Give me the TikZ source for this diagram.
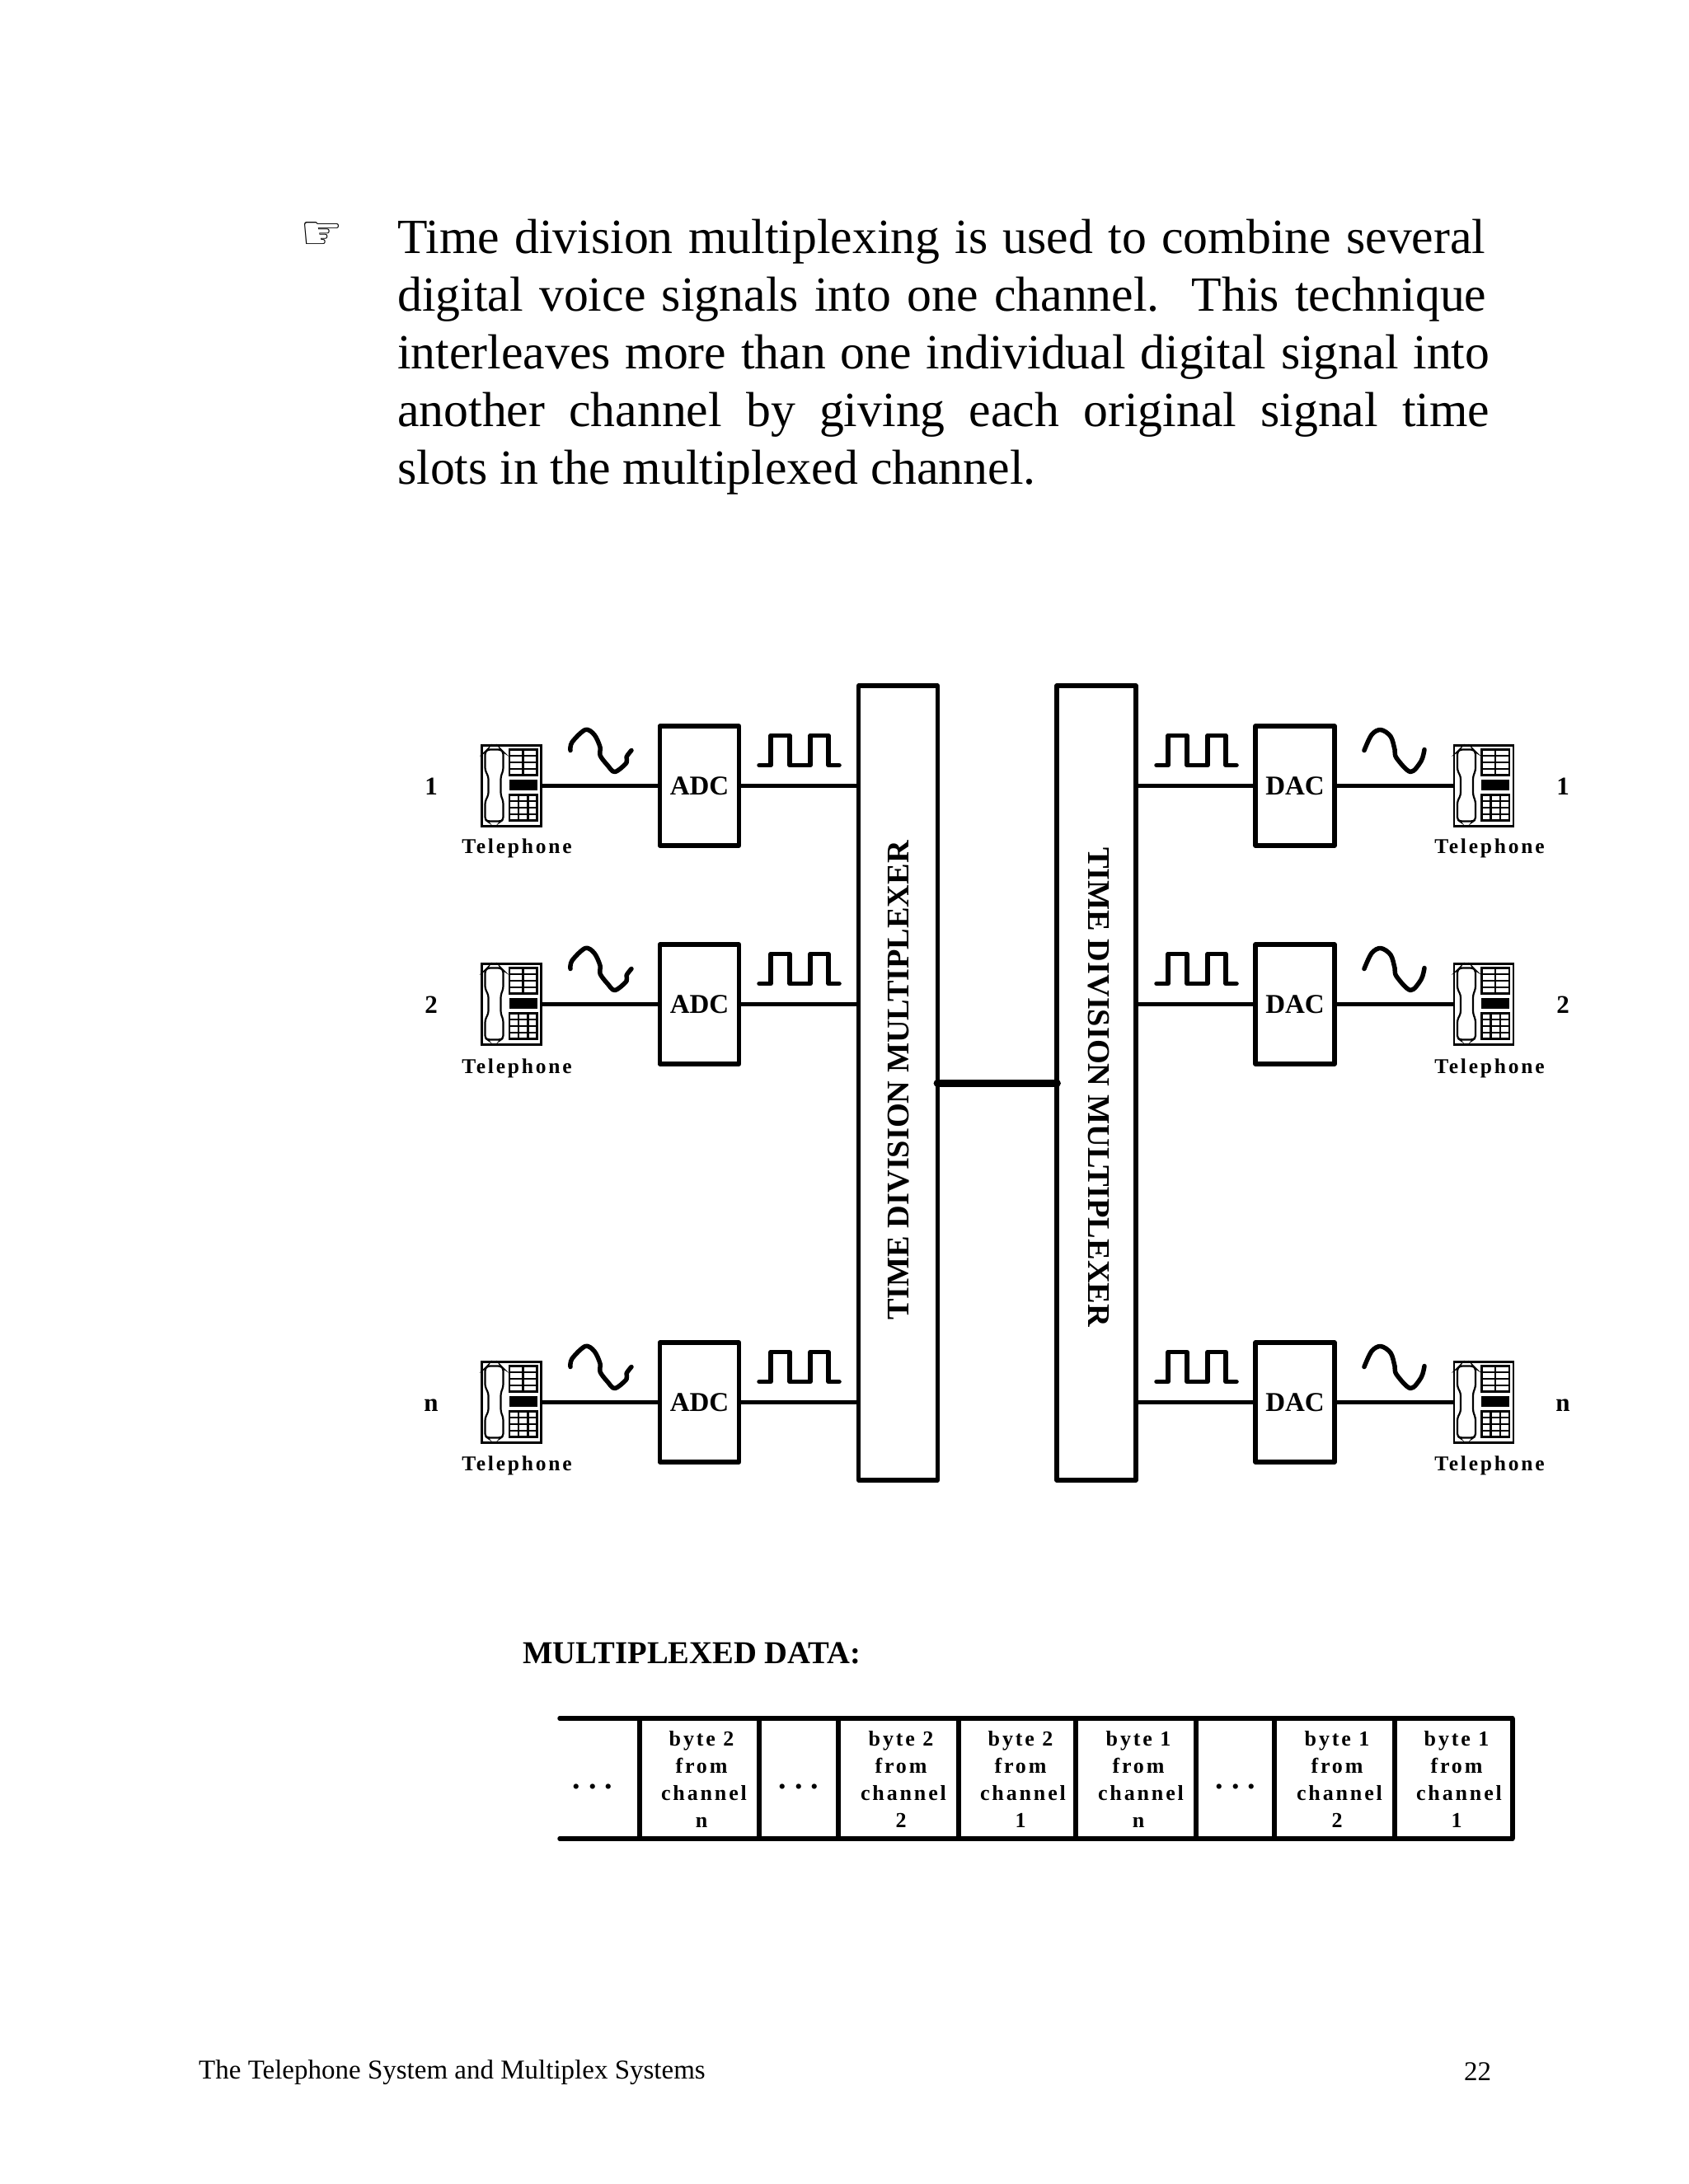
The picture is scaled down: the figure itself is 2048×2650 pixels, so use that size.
\documentclass[tikz,border=0pt]{standalone}
\usepackage{fontspec}
\setmainfont{Liberation Serif}
\newfontfamily\handfont{DejaVu Sans}
\newfontfamily\spfontb[LetterSpace=11]{Liberation Serif Bold}
\usetikzlibrary{calc}
\tikzset{
  x=1pt,y=-1pt,
  box/.style={draw,line width=5.5pt,inner sep=0pt,line join=round,minimum width=96pt,minimum height=145pt,font=\bfseries\fontsize{33}{36}\selectfont},
  tdm/.style={draw,line width=5.2pt,inner sep=0pt,line join=round,minimum width=96pt,minimum height=964pt},
  tdmlabel/.style={inner sep=0pt,font=\bfseries\fontsize{38.3}{42}\selectfont},
  wire/.style={line width=5.5pt},
  sig/.style={line width=5.5pt,line cap=round,line join=round},
  phonebody/.style={draw,line width=2.2pt,inner sep=0pt,minimum width=72pt,minimum height=98pt},
  thin/.style={line width=2.2pt},
  lab/.style={inner sep=0pt,anchor=base,font=\bfseries\fontsize{31}{33}\selectfont},
  tel/.style={inner sep=0pt,font=\spfontb\fontsize{25.5}{28}\selectfont},
  cell/.style={inner sep=0pt,align=center,font=\spfontb\fontsize{26}{33}\selectfont},
  para/.style={inner sep=0pt,anchor=north west,align=left,font=\fontsize{59.7}{70}\selectfont},
}
\newcommand{\phoneicon}[3]{% name, centre x, centre y
  \node[phonebody] (#1) at (#2,#3) {};
  \begin{scope}[shift={(#2-36,#3-49)}]
    \draw[thin,rounded corners=3pt] (7,5) -- (23,5) -- (26,8) -- (26,30) -- (23,38) -- (23,60) -- (26,68) -- (26,90) -- (23,92) -- (7,92) -- (4,90) -- (4,68) -- (8,60) -- (8,38) -- (4,30) -- (4,8) -- cycle;
    \draw[thin] (33.5,5) rectangle (67,36);
    \draw[thin] (50,5) -- (50,36) (33.5,12.5) -- (67,12.5) (33.5,20.5) -- (67,20.5) (33.5,28.5) -- (67,28.5);
    \foreach \yy in {43,45.5,48,50.5,53} \draw[line width=2.1pt] (33,\yy) -- (67,\yy);
    \draw[thin] (33.5,60) rectangle (67,91);
    \draw[thin] (44.5,60) -- (44.5,91) (56,60) -- (56,91) (33.5,67.5) -- (67,67.5) (33.5,75.5) -- (67,75.5) (33.5,83.5) -- (67,83.5);
  \end{scope}}
\newcommand{\sineL}[2]{\draw[sig,shift={(#1,#2)}] plot[smooth,tension=.55] coordinates {(0,-43) (2,-53) (18,-68) (29,-62) (36,-47) (36,-37) (45,-25) (54,-17) (68,-28) (68,-35) (74,-43)};}
\newcommand{\sineR}[2]{\draw[sig,shift={(#1,#2)}] plot[smooth,tension=.55] coordinates {(0,-43) (9,-62) (20,-68) (32,-60) (37,-44) (39,-34) (56,-17) (69,-30) (73,-44)};}
\newcommand{\squareW}[2]{\draw[sig,shift={(#1,#2)}] (0,-25) -- (14,-25) -- (14,-61) -- (37,-61) -- (37,-25) -- (62,-25) -- (62,-61) -- (84,-61) -- (84,-25) -- (97,-25);}
\newcommand{\pline}[2]{\hbox to #1pt{#2}}
\begin{document}
\begin{tikzpicture}
\useasboundingbox[fill=white] (0,0) rectangle (2048,2650);

\node[inner sep=0pt,font=\handfont\fontsize{58}{60}\selectfont] (hand) at (390,286) {☞};
\node[para] (para) at (482,265.5)
 {\pline{1320}{Time division multiplexing is used to combine several}\\
  \pline{1321}{digital voice signals into one channel.\ \ This technique}\\
  \pline{1325}{interleaves more than one individual digital signal into}\\
  \pline{1325}{another channel by giving each original signal time}\\
  slots in the multiplexed channel.};

% multiplexers
\node[tdm] (tl) at (1089.5,1314) {};
\node[tdm] (tr) at (1330,1314) {};
\node[tdmlabel,rotate=90] (tlt) at (1090,1311) {TIME DIVISION MULTIPLEXER};
\node[tdmlabel,rotate=-90] (trt) at (1332.5,1319) {TIME DIVISION MULTIPLEXER};
\draw[line width=9pt,line cap=round,shorten >=-3pt,shorten <=-3pt] (tl.east) -- (tr.west);

\foreach \nm/\ry/\lb/\td in {1/953.5/1/76,2/1218.5/2/78,3/1701.5/n/76.5}{
  % left side
  \node[box] (a\nm) at (848.5,\ry) {ADC};
  \phoneicon{pl\nm}{620.5}{\ry}
  \draw[wire] (pl\nm) -- (a\nm);
  \draw[wire] (a\nm) -- (a\nm -| tl.west);
  \sineL{692}{\ry}
  \squareW{921}{\ry}
  \node[lab] (nl\nm) at (523,\ry+11) {\lb};
  \node[tel] (tl\nm) at (627,\ry+\td) {Telephone};
  % right side
  \node[box] (d\nm) at (1571,\ry) {DAC};
  \phoneicon{pr\nm}{1800}{\ry}
  \draw[wire] (d\nm) -- (pr\nm);
  \draw[wire] (d\nm) -- (d\nm -| tr.east);
  \sineR{1655}{\ry}
  \squareW{1403}{\ry}
  \node[lab] (nr\nm) at (1896,\ry+11) {\lb};
  \node[tel] (tr\nm) at (1807,\ry+\td) {Telephone};
}

% multiplexed data
\node[inner sep=0pt,anchor=west,font=\bfseries\fontsize{38.6}{40}\selectfont] (md) at (634,2006.5) {MULTIPLEXED DATA:};
\coordinate (tsw) at (679,2085);
\coordinate (tse) at (1835,2085);
\coordinate (bsw) at (679,2231);
\coordinate (bse) at (1835,2231);
\draw[wire,line cap=round] (tsw) -- (tse);
\draw[wire,line cap=round] (bsw) -- (bse);
\foreach \xx in {776,921,1017,1163,1305,1451,1546,1692,1835}
  \draw[wire] (\xx,2085) -- (\xx,2231);
\node[cell] (c1) at (851,2159) {byte 2\\from\\\hspace*{6pt}channel\\n};
\node[cell] (c2) at (1093,2159) {byte 2\\from\\\hspace*{6pt}channel\\2};
\node[cell] (c3) at (1238,2159) {byte 2\\from\\\hspace*{6pt}channel\\1};
\node[cell] (c4) at (1381,2159) {byte 1\\from\\\hspace*{6pt}channel\\n};
\node[cell] (c5) at (1622,2159) {byte 1\\from\\\hspace*{6pt}channel\\2};
\node[cell] (c6) at (1767,2159) {byte 1\\from\\\hspace*{6pt}channel\\1};
\foreach \nm/\xx in {e1/719,e2/969,e3/1499}
  \node[inner sep=0pt,font=\bfseries\fontsize{38}{40}\selectfont] (\nm) at (\xx,2168) {.\hspace{10pt}.\hspace{10pt}.};

% footer
\node[inner sep=0pt,anchor=west,font=\fontsize{33}{36}\selectfont] (foot) at (241,2515) {The Telephone System and Multiplex Systems};
\node[inner sep=0pt,font=\fontsize{33}{36}\selectfont] (pg) at (1792.5,2514) {22};
\end{tikzpicture}
\end{document}
